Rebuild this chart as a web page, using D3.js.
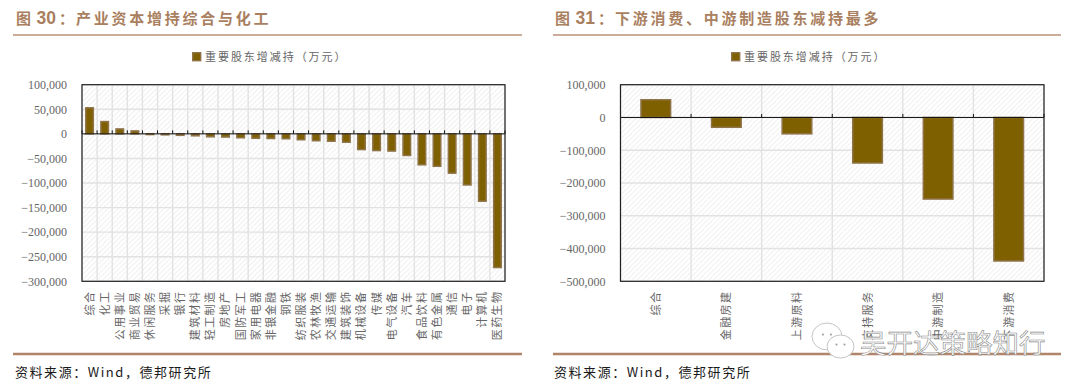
<!DOCTYPE html>
<html><head><meta charset="utf-8">
<script src="https://cdn.jsdelivr.net/npm/d3@7/dist/d3.min.js"></script>
<style>html,body{margin:0;padding:0;background:#fff}svg{display:block}</style>
</head><body><svg id="c" width="1080" height="391"></svg>
<script>
const seriesName = "重要股东增减持（万元）";
const source = "资料来源：Wind，德邦研究所";
const leftTitle = ["图","30","：","产业资本增持综合与化工"];
const rightTitle = ["图","31","：","下游消费、中游制造股东减持最多"];
const leftCategories = ["综合","化工","公用事业","商业贸易","休闲服务","采掘","银行","建筑材料","轻工制造","房地产","国防军工","家用电器","非银金融","钢铁","纺织服装","农林牧渔","交通运输","建筑装饰","机械设备","传媒","电气设备","汽车","食品饮料","有色金属","通信","电子","计算机","医药生物"];
const leftValues = [53000,25000,10000,6000,-1500,-2000,-3000,-4000,-6000,-6500,-8000,-9000,-9500,-10000,-12000,-14000,-15000,-17000,-32000,-34000,-35000,-44000,-63000,-66000,-80000,-104000,-137000,-272000];
const leftTicks = [100000,50000,0,-50000,-100000,-150000,-200000,-250000,-300000];
const rightCategories = ["综合","金融房建","上游原料","支持服务","中游制造","下游消费"];
const rightValues = [54000,-30000,-50000,-139000,-249000,-438000];
const rightTicks = [100000,0,-100000,-200000,-300000,-400000,-500000];

const svg = d3.select("#c");
const CJK = "'Noto Sans CJK SC','Noto Sans',sans-serif";
const defs = svg.append("defs");
const pat = defs.append("pattern").attr("id","hatch").attr("width",3.6).attr("height",3.6)
  .attr("patternUnits","userSpaceOnUse").attr("patternTransform","rotate(45)");
pat.append("rect").attr("width",3.6).attr("height",3.6).attr("fill","#fff");
pat.append("rect").attr("width",1.1).attr("height",3.6).attr("fill","#f1f1f1");

function panel(o){
  const g = svg.append("g");
  const tt = (s,dx,fam,fs,ls)=>g.append("text").attr("x",o.titleX+dx).attr("y",24).attr("fill","#a97f5f")
    .attr("font-family",fam).attr("font-weight",700).attr("font-size",fs).attr("letter-spacing",ls).text(s);
  tt(o.title[0],0,CJK,15,0);
  tt(o.title[1],20.5,"'Liberation Sans',sans-serif",17.5,0);
  tt(o.title[2],43,CJK,15,0);
  tt(o.title[3],60,CJK,15,2.75);
  g.append("line").attr("x1",o.ruleL).attr("x2",o.ruleR).attr("y1",35).attr("y2",35).attr("stroke","#b8937a").attr("stroke-width",1.5);
  g.append("line").attr("x1",o.ruleL).attr("x2",o.ruleR).attr("y1",354).attr("y2",354).attr("stroke","#b0856a").attr("stroke-width",2.4);
  g.append("text").attr("x",o.titleX-1).attr("y",377).attr("fill","#1a1a1a").attr("font-family",CJK)
    .attr("font-size",13).attr("letter-spacing",1.55).text(o.source);
  // legend
  g.append("rect").attr("x",o.legendX+.7).attr("y",52.7).attr("width",8).attr("height",8)
    .attr("fill","#7f6000").attr("stroke","#8f744a").attr("stroke-width",1.4);
  g.append("text").attr("x",o.legendX+13).attr("y",61).attr("fill","#666").attr("font-family",CJK)
    .attr("font-size",11).attr("letter-spacing",1.95).text(seriesName);

  const x = d3.scaleBand().domain(o.cats).range([o.x0,o.x1]);
  const y = d3.scaleLinear().domain([o.ticks[o.ticks.length-1],o.ticks[0]]).range([281.3,84.7]);
  const bw = x.bandwidth();
  const edges = o.cats.map(c=>x(c)).concat([o.x1]);

  g.append("rect").attr("x",o.x0).attr("y",y.range()[1]).attr("width",o.x1-o.x0).attr("height",y.range()[0]-y.range()[1]).attr("fill","url(#hatch)");
  g.selectAll(".gy").data(o.ticks).join("line").attr("x1",o.x0).attr("x2",o.x1).attr("y1",d=>y(d)).attr("y2",d=>y(d)).attr("stroke","#e2e2e2").attr("stroke-width",1.4);
  g.selectAll(".gx").data(edges).join("line").attr("x1",d=>d).attr("x2",d=>d).attr("y1",y.range()[1]).attr("y2",y.range()[0]).attr("stroke","#e2e2e2").attr("stroke-width",1.4);

  g.selectAll(".bar").data(o.vals).join("rect")
    .attr("x",(d,i)=>x(o.cats[i])+(bw-bw*o.ratio)/2)
    .attr("width",bw*o.ratio)
    .attr("y",d=>Math.min(y(d),y(0)))
    .attr("height",d=>Math.abs(y(d)-y(0)))
    .attr("fill","#7f6000").attr("stroke","#8f744a").attr("stroke-width",1.5);

  g.append("line").attr("x1",o.x0).attr("x2",o.x1).attr("y1",y(0)).attr("y2",y(0)).attr("stroke","#111").attr("stroke-width",1);
  g.selectAll(".tk").data(edges).join("line").attr("x1",d=>d).attr("x2",d=>d).attr("y1",y(0)).attr("y2",y(0)-3.5).attr("stroke","#111").attr("stroke-width",1);
  g.append("rect").attr("x",o.x0).attr("y",y.range()[1]).attr("width",o.x1-o.x0).attr("height",y.range()[0]-y.range()[1])
    .attr("fill","none").attr("stroke","#222").attr("stroke-width",1.2);

  const ax = g.append("g").attr("transform",`translate(${o.x0-15},0)`)
    .call(d3.axisLeft(y).tickValues(o.ticks).tickFormat(d3.format(",")).tickSize(0).tickPadding(0));
  ax.select(".domain").remove();
  ax.selectAll("text").attr("font-family","'Liberation Serif',serif").attr("font-size",12).attr("fill","#666");

  g.selectAll(".cat").data(o.cats).join("text")
    .attr("transform",c=>`translate(${x(c)+bw/2},290.5) rotate(-90)`)
    .attr("text-anchor","end").attr("fill","#666").attr("font-family",CJK)
    .attr("font-size",11).attr("letter-spacing",1.45).attr("dy","0.36em").text(c=>c);
}

panel({title:leftTitle,source,titleX:16,ruleL:13,ruleR:522,legendX:192,x0:82,x1:505,cats:leftCategories,vals:leftValues,ticks:leftTicks,ratio:.5});
panel({title:rightTitle,source,titleX:555,ruleL:553,ruleR:1061,legendX:731,x0:620.5,x1:1044,cats:rightCategories,vals:rightValues,ticks:rightTicks,ratio:.42});

// watermark
const wm = svg.append("g");
wm.append("text").attr("x",860).attr("y",353).attr("font-family",CJK).attr("font-size",26.5)
  .attr("fill","#fff").attr("stroke","#8a8a8a").attr("stroke-width",.6).text("吴开达策略知行");
[[827,336.5,15,13.5],[840.5,346.5,13.5,11.5]].forEach(b=>{
  wm.append("ellipse").attr("cx",b[0]).attr("cy",b[1]).attr("rx",b[2]).attr("ry",b[3]).attr("fill","#fff").attr("stroke","#c4c4c4").attr("stroke-width",1);
  [-4,4].forEach(d=>wm.append("circle").attr("cx",b[0]+d).attr("cy",b[1]-2).attr("r",1).attr("fill","#999"));
});
</script></body></html>
